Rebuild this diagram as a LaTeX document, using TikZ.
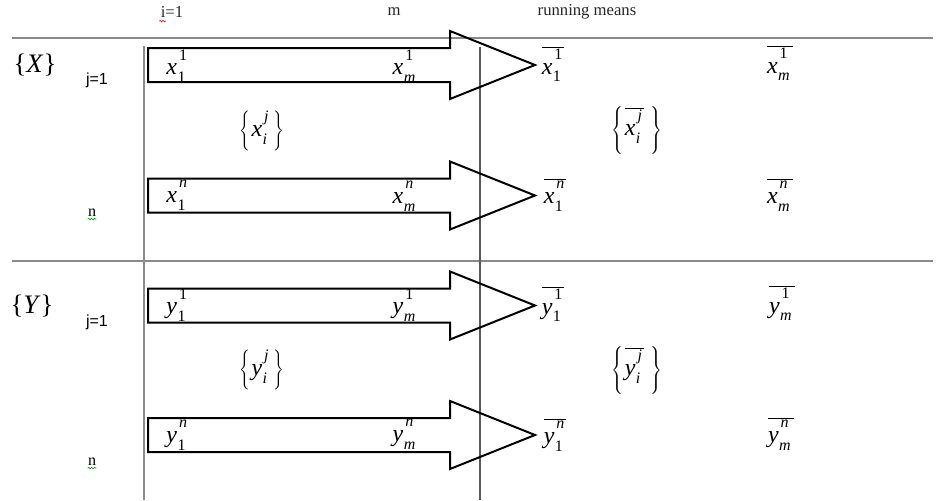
\documentclass[tikz,border=0pt]{standalone}
\usepackage{fontspec}
\setmainfont{Liberation Serif}
\newfontfamily\labelsans{Liberation Sans}
\usetikzlibrary{decorations.pathmorphing}
\definecolor{rulegray}{HTML}{8A8A8A}
\definecolor{darkrule}{HTML}{5A5A5A}
% italic letter with stacked superscript and subscript
\newcommand\subsup[3]{\textit{#1\/}\kern0.3pt\makebox[0pt][l]{\kern1.2pt\raisebox{0.62em}{\fontsize{12}{12}\selectfont #2}}\raisebox{-0.32em}{\fontsize{12}{12}\selectfont #3}}
\newcommand\meanof[1]{$\overline{\hbox{#1\kern2.5pt}}$}
\newcommand\setof[1]{$\left\{\hbox{\kern1pt#1\kern5pt}\right\}$}
\tikzset{
  rule/.style={draw=rulegray, line width=1.5pt},
  thinrule/.style={draw=darkrule, line width=0.8pt},
  mathlbl/.style={inner sep=0pt, font=\fontsize{18}{20}\selectfont},
  head/.style={inner sep=0pt, font=\fontsize{12.5}{14}\selectfont, text=black!85},
  rowlbl/.style={inner sep=0pt, font=\labelsans\fontsize{12}{14}\selectfont},
  squiggle/.style={decorate, decoration={snake, amplitude=0.5pt, segment length=2.2pt}, line width=0.5pt},
  fat arrow/.pic={\draw[line width=1.5pt, line join=miter]
     (0,-17) -- (302,-17) -- (302,-34) -- (387,0) -- (302,34) -- (302,17) -- (0,17) -- cycle;}
}
\begin{document}
\begin{tikzpicture}[x=0.75pt, y=-0.75pt]
\useasboundingbox (0,0) rectangle (938,500);

% table rules
\coordinate (h1a) at (12,38);  \coordinate (h1b) at (933,38);
\coordinate (h2a) at (12,261); \coordinate (h2b) at (933,261);
\coordinate (v1a) at (144,46); \coordinate (v1b) at (144,500);
\coordinate (v2a) at (480,47); \coordinate (v2b) at (480,500);
\draw[rule] (h1a) -- (h1b);
\draw[rule] (h2a) -- (h2b);
\draw[rule] (v1a) -- (v1b);
\draw[thinrule] (v2a) -- (v2b);

% column headings
\node[head] (hi) at (172,12) {i=1};
\node[head] (hm) at (394,12) {m};
\node[head] (hrun) at (587,12) {running means};
\draw[squiggle, red] ([xshift=-1pt,yshift=-2.5pt]hi.south west) -- ++(5pt,0);

% block labels
\node[mathlbl, font=\fontsize{20}{22}\selectfont] (bx) at (35,65) {\{\textit{X}\}};
\node[mathlbl, font=\fontsize{20}{22}\selectfont] (by) at (32,306) {\{\textit{Y}\}};

% row labels
\node[rowlbl] (jx) at (97,80) {j=1};
\node[rowlbl] (nx) at (92,213) {\rmfamily n};
\node[rowlbl] (jy) at (97,322) {j=1};
\node[rowlbl] (ny) at (92,462) {\rmfamily n};
\draw[squiggle, green!60!black] ([yshift=-1.5pt]nx.south west) -- ([yshift=-1.5pt]nx.south east);
\draw[squiggle, green!60!black] ([yshift=-1.5pt]ny.south west) -- ([yshift=-1.5pt]ny.south east);

% wide arrows
\pic at (148,65) {fat arrow};
\pic at (148,195.5) {fat arrow};
\pic at (148,305.5) {fat arrow};
\pic at (148,435) {fat arrow};

% X block entries
\node[mathlbl] (x11) at (176,66) {\subsup{x}{1}{1}};
\node[mathlbl] (xm1) at (404,66) {\subsup{x}{1}{\textit{m}}};
\node[mathlbl] (mx11) at (553,64) {\meanof{\subsup{x}{1}{1}}};
\node[mathlbl] (mxm1) at (780,63) {\meanof{\subsup{x}{1}{\textit{m}}}};
\node[mathlbl] (xij) at (262,131) {\setof{\subsup{x}{\textit{j}}{\textit{i}}}};
\node[mathlbl] (mxij) at (637,130) {\setof{\meanof{\subsup{x}{\textit{j}}{\textit{i}}}}};
\node[mathlbl] (x1n) at (176,195) {\subsup{x}{\textit{n}}{1}};
\node[mathlbl] (xmn) at (404,196) {\subsup{x}{\textit{n}}{\textit{m}}};
\node[mathlbl] (mx1n) at (555,195) {\meanof{\subsup{x}{\textit{n}}{1}}};
\node[mathlbl] (mxmn) at (780,195) {\meanof{\subsup{x}{\textit{n}}{\textit{m}}}};

% Y block entries
\node[mathlbl] (y11) at (176,305) {\subsup{y}{1}{1}};
\node[mathlbl] (ym1) at (404,305) {\subsup{y}{1}{\textit{m}}};
\node[mathlbl] (my11) at (553,304) {\meanof{\subsup{y}{1}{1}}};
\node[mathlbl] (mym1) at (782,303) {\meanof{\subsup{y}{1}{\textit{m}}}};
\node[mathlbl] (yij) at (262,370) {\setof{\subsup{y}{\textit{j}}{\textit{i}}}};
\node[mathlbl] (myij) at (637,370) {\setof{\meanof{\subsup{y}{\textit{j}}{\textit{i}}}}};
\node[mathlbl] (y1n) at (176,435) {\subsup{y}{\textit{n}}{1}};
\node[mathlbl] (ymn) at (404,434) {\subsup{y}{\textit{n}}{\textit{m}}};
\node[mathlbl] (my1n) at (555,435) {\meanof{\subsup{y}{\textit{n}}{1}}};
\node[mathlbl] (mymn) at (781,434) {\meanof{\subsup{y}{\textit{n}}{\textit{m}}}};
\end{tikzpicture}
\end{document}
